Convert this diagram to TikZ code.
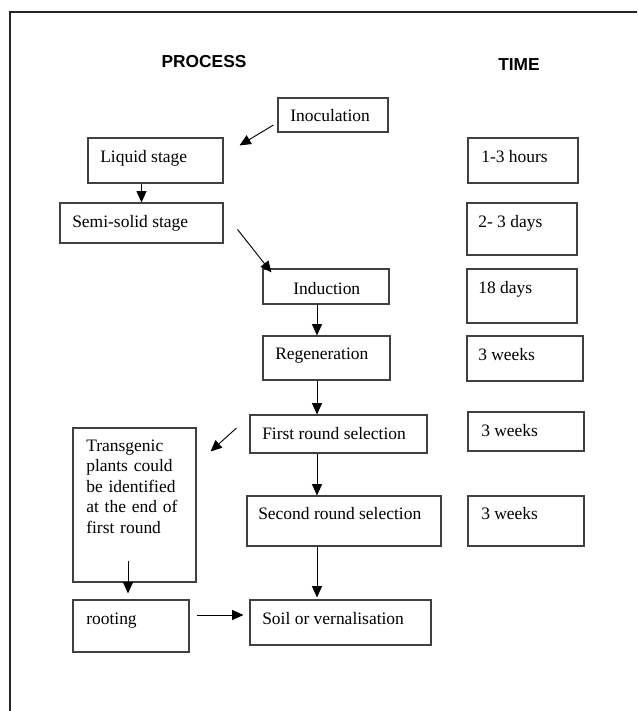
\documentclass[tikz,border=0pt]{standalone}
\usepackage{fontspec}
\setmainfont{Liberation Serif}
\newfontfamily\headfont{Liberation Sans}
\usetikzlibrary{arrows.meta,calc,fit}

\tikzset{
  box/.style={draw=black!75, line width=0.8pt, inner sep=0pt},
  txt/.style={anchor=base west, inner sep=0pt, font=\fontsize{13.1pt}{15.4pt}\selectfont},
  head/.style={anchor=base, inner sep=0pt, font=\headfont\bfseries\fontsize{13pt}{15pt}\selectfont},
  arr/.style={-{Triangle[length=8.5pt,width=7.5pt]}, line width=0.7pt},
  frame/.style={line width=1pt, black!85}
}

\begin{document}
\begin{tikzpicture}[x=0.75pt, y=-0.75pt]
		\useasboundingbox (0,0) rectangle (637,711);
		\draw[frame] (637,12) -- (10,12) -- (10,711);

		% headings
		\node[head] (proc) at (204,67) {PROCESS};
		\node[head] (time) at (519,70) {TIME};

		% process column
		\node[box, fit={(278,98) (388,132)}] (inoc) {};
		\node[txt] (inoc-t) at (290,121) {Inoculation};
		\node[box, fit={(88,138) (223,183)}] (liq) {};
		\node[txt] (liq-t) at (100,162) {Liquid stage};
		\node[box, fit={(60,203) (223,243)}] (semi) {};
		\node[txt] (semi-t) at (72,227) {Semi-solid stage};
		\node[box, fit={(263,269) (389,304)}] (ind) {};
		\node[txt] (ind-t) at (293,294) {Induction};
		\node[box, fit={(263,336) (390,380)}] (reg) {};
		\node[txt] (reg-t) at (275,359) {Regeneration};
		\node[box, fit={(250,415) (427,453)}] (first) {};
		\node[txt] (first-t) at (262,439) {First round selection};
		\node[box, fit={(73,428) (196,582)}] (trans) {};
		\node[txt, text width=90pt, align=left] (trans-t) at (86,451)
		      {Transgenic\\ plants could\\ be identified\\ at the end of\\ first round};
		\node[box, fit={(247,496) (441,546)}] (second) {};
		\node[txt] (second-t) at (258,519) {Second round selection};
		\node[box, fit={(73,600) (189,652)}] (root) {};
		\node[txt] (root-t) at (86,624) {rooting};
		\node[box, fit={(250,600) (431,645)}] (soil) {};
		\node[txt] (soil-t) at (262,624) {Soil or vernalisation};

		% time column
		\node[box, fit={(468,138) (578,183)}] (t1) {};
		\node[txt] (t1-t) at (481,162) {1-3 hours};
		\node[box, fit={(467,203) (577,255)}] (t2) {};
		\node[txt] (t2-t) at (478,227) {2- 3 days};
		\node[box, fit={(467,269) (577,323)}] (t3) {};
		\node[txt] (t3-t) at (478,293) {18 days};
		\node[box, fit={(467,336) (583,381)}] (t4) {};
		\node[txt] (t4-t) at (478,360) {3 weeks};
		\node[box, fit={(468,412) (584,451)}] (t5) {};
		\node[txt] (t5-t) at (481,436) {3 weeks};
		\node[box, fit={(468,496) (584,546)}] (t6) {};
		\node[txt] (t6-t) at (481,519) {3 weeks};

		% arrows
		\coordinate (spine) at (317,0);
		\draw[arr] ($(inoc.west)+(-4,10)$) -- ($(liq.north east)+(16,8)$);
		\draw[arr] (liq.south -| semi.north) -- (semi.north);
		\draw[arr] ($(semi.north east)+(14,27)$) -- ($(ind.north west)+(9,4)$);
		\draw[arr] (ind.south -| spine) -- (reg.north -| spine);
		\draw[arr] (reg.south -| spine) -- (first.north -| spine);
		\draw[arr] (first.south -| spine) -- (second.north -| spine);
		\draw[arr] (second.south -| spine) -- ($(soil.north -| spine)+(0,-2)$);
		\draw[arr] ($(first.west)+(-13,-6)$) -- ($(trans.north east)+(14,24)$);
		\draw[arr] ($(trans.south)+(-6.5,-22)$) -- ($(root.north)+(-3,-6)$);
		\draw[arr] ($(root.east)+(7,-11)$) -- ($(soil.west)+(-6,-7.5)$);
	\end{tikzpicture}
\end{document}
